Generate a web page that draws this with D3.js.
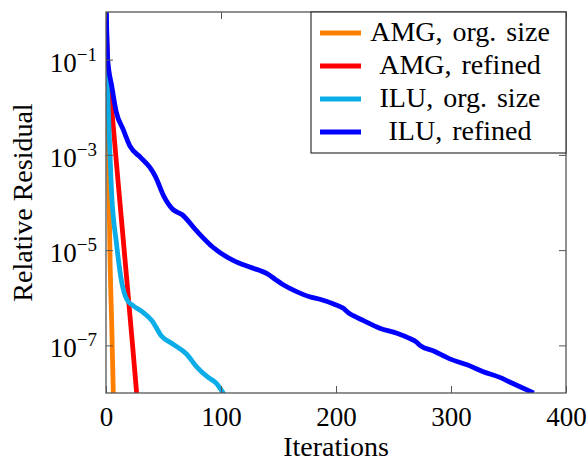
<!DOCTYPE html>
<html>
<head>
<meta charset="utf-8">
<script src="https://cdn.jsdelivr.net/npm/d3@7"></script>
<style>
body { margin: 0; background: white; }
text { font-family: "Liberation Serif", "DejaVu Serif", serif; fill: black; }
</style>
</head>
<body>
<svg id="chart" width="588" height="462"></svg>
<script>
// relative residual per iteration
var amgOrgIter = [0, 2, 3.5, 5, 6.4];
var amgOrgRes  = [1, 2.1e-3, 6.5e-6, 2.6e-7, 9e-9];

var amgRefIter = [0, 2, 5, 8, 11, 14, 17, 20, 23, 26.8];
var amgRefRes  = [1, 4e-2, 9e-3, 1.35e-3, 2.0e-4, 3.1e-5, 4.7e-6, 7.1e-7, 1.07e-7, 9e-9];

var iluOrgIter = [0, 1, 2, 5, 9, 13.7, 18, 23.7, 32, 40, 48, 58, 70, 79, 88, 96, 102.5];
var iluOrgRes  = [1, 4e-2, 9e-3, 1.4e-4, 1.45e-5, 2.1e-6, 9.3e-7, 6.8e-7, 5.0e-7, 3.3e-7,
                  1.6e-7, 1.07e-7, 6.6e-8, 3.5e-8, 2.2e-8, 1.6e-8, 9.5e-9];

var iluRefIter = [0, 1.5, 5, 9, 15, 21, 30, 38, 43, 50, 58, 66, 79, 93, 111, 125, 140, 147,
                  153, 163, 177, 186, 198, 206, 211, 215, 224, 238, 253, 264, 270, 273, 285, 299,
                  314, 328, 343, 351, 360, 372];
var iluRefRes  = [2, 1.0e-1, 2.8e-2, 7.8e-3, 3.4e-3, 1.5e-3, 8.9e-4, 5.5e-4, 3.5e-4, 1.4e-4,
                  7.2e-5, 5.6e-5, 2.5e-5, 1.15e-5, 6.0e-6, 4.4e-6, 3.2e-6, 2.45e-6, 1.95e-6,
                  1.45e-6, 1.05e-6, 9.3e-7, 7.4e-7, 6.1e-7, 4.8e-7, 4.2e-7, 3.3e-7, 2.3e-7, 1.8e-7,
                  1.4e-7, 1.17e-7, 1.0e-7, 7.6e-8, 5.2e-8, 3.9e-8, 2.8e-8, 2.1e-8, 1.7e-8,
                  1.35e-8, 1.0e-8];

var seriesNames  = ["AMG, org. size", "AMG, refined", "ILU, org. size", "ILU, refined"];
var seriesColors = ["#FF8000", "#FF0000", "#0AADE8", "#0000FF"];

var xTicks = [0, 100, 200, 300, 400];
var yTicks = [1e-1, 1e-3, 1e-5, 1e-7];
var yTickExp = ["\u22121", "\u22123", "\u22125", "\u22127"];

var pLeft = 106, pRight = 566, pTop = 12, pBottom = 393;

var svg = d3.select("#chart");

var x = d3.scaleLinear().domain([0, 400]).range([pLeft, pRight]);
var y = d3.scaleLog().domain([1e-8, 1]).range([pBottom, pTop]);

svg.append("clipPath").attr("id", "clip")
    .append("rect")
    .attr("x", pLeft).attr("y", pTop)
    .attr("width", pRight - pLeft).attr("height", pBottom - pTop);

var series = [
    {iter: amgOrgIter, res: amgOrgRes},
    {iter: amgRefIter, res: amgRefRes},
    {iter: iluOrgIter, res: iluOrgRes},
    {iter: iluRefIter, res: iluRefRes}
];

var line = d3.line()
    .curve(d3.curveMonotoneX)
    .x(function(d) { return x(d[0]); })
    .y(function(d) { return y(d[1]); });

svg.append("g").attr("clip-path", "url(#clip)")
    .selectAll("path")
    .data(series)
    .enter().append("path")
    .attr("fill", "none")
    .attr("stroke", function(d, i) { return seriesColors[i]; })
    .attr("stroke-width", 4.8)
    .attr("stroke-linejoin", "round")
    .attr("d", function(d) { return line(d3.zip(d.iter, d.res)); });

// axes: ticks drawn inside on all four sides
var tickLen = 7;
var axisColor = "#555";

var xAxisB = svg.append("g").attr("transform", "translate(0," + pBottom + ")")
    .call(d3.axisBottom(x).tickValues(xTicks).tickSize(-tickLen).tickPadding(tickLen + 7).tickFormat(d3.format("d")));
var xAxisT = svg.append("g").attr("transform", "translate(0," + pTop + ")")
    .call(d3.axisTop(x).tickValues(xTicks).tickSize(-tickLen).tickFormat(""));
var yAxisL = svg.append("g").attr("transform", "translate(" + pLeft + ",0)")
    .call(d3.axisLeft(y).tickValues(yTicks).tickSize(-tickLen).tickFormat(""));
var yAxisR = svg.append("g").attr("transform", "translate(" + pRight + ",0)")
    .call(d3.axisRight(y).tickValues(yTicks).tickSize(-tickLen).tickFormat(""));

[xAxisB, xAxisT, yAxisL, yAxisR].forEach(function(a) {
    a.select(".domain").remove();
    a.selectAll(".tick line").attr("stroke", axisColor).attr("stroke-width", 1);
});
xAxisB.selectAll(".tick text")
    .attr("font-family", "Liberation Serif")
    .attr("font-size", 27)
    .attr("fill", "black");

// y tick labels as 10^exp
yTicks.forEach(function(v, i) {
    var t = svg.append("text")
        .attr("x", 97)
        .attr("y", y(v) + 12)
        .attr("text-anchor", "end")
        .attr("font-size", 27);
    t.append("tspan").text("10");
    t.append("tspan").attr("dy", -11).attr("font-size", 19).text(yTickExp[i]);
});

svg.append("rect")
    .attr("x", pLeft).attr("y", pTop)
    .attr("width", pRight - pLeft).attr("height", pBottom - pTop)
    .attr("fill", "none")
    .attr("stroke", axisColor)
    .attr("stroke-width", 1.3);

// axis labels
svg.append("text")
    .attr("x", (pLeft + pRight) / 2)
    .attr("y", 456)
    .attr("text-anchor", "middle")
    .attr("font-size", 28)
    .text("Iterations");

svg.append("text")
    .attr("transform", "translate(32," + ((pTop + pBottom) / 2) + ") rotate(-90)")
    .attr("text-anchor", "middle")
    .attr("font-size", 28)
    .text("Relative Residual");

// legend
var legend = svg.append("g");
legend.append("rect")
    .attr("x", 311).attr("y", 12)
    .attr("width", 255).attr("height", 141)
    .attr("fill", "white")
    .attr("stroke", "#333")
    .attr("stroke-width", 1.2);

var rows = legend.selectAll("g.row")
    .data(seriesNames)
    .enter().append("g")
    .attr("class", "row")
    .attr("transform", function(d, i) { return "translate(0," + (33 + i * 33) + ")"; });

rows.append("line")
    .attr("x1", 320).attr("x2", 361)
    .attr("y1", 0).attr("y2", 0)
    .attr("stroke", function(d, i) { return seriesColors[i]; })
    .attr("stroke-width", 4.8);

rows.append("text")
    .attr("x", 460)
    .attr("y", 8)
    .attr("text-anchor", "middle")
    .attr("font-size", 28)
    .attr("word-spacing", 3)
    .text(function(d) { return d; });
</script>
</body>
</html>
